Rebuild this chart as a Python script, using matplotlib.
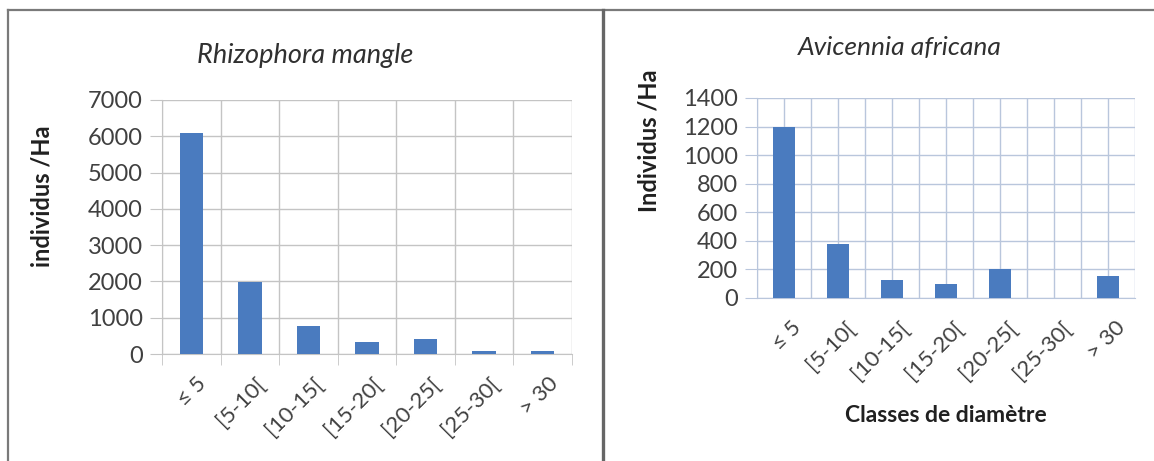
import matplotlib.pyplot as plt
from matplotlib.lines import Line2D
import matplotlib.transforms as mtransforms
import numpy as np

# diameter classes (cm) and stem density per hectare
classes = ['≤ 5', '[5-10[', '[10-15[', '[15-20[', '[20-25[', '[25-30[', '> 30']
rhizophora = [6080, 1980, 780, 320, 420, 70, 70]
avicennia = [1200, 380, 125, 100, 205, 0, 155]

W, H = 1154, 461
plt.rcParams['font.family'] = ['Lato', 'DejaVu Sans']
fig = plt.figure(figsize=(W / 100, H / 100), dpi=100)

bar_col = '#4a7bbf'
txt_col = '#404040'


def px_axes(x0, y0, x1, y1):
    # axes box given in pixels, origin at the top left
    return fig.add_axes([x0 / W, 1 - y1 / H, (x1 - x0) / W, (y1 - y0) / H])


def bar_panel(ax, values, ymax, ystep, grid_col, mid_grid, tick_below, lab_dx, lab_pad):
    x = np.arange(len(classes))
    ax.bar(x, values, width=0.4, color=bar_col, zorder=3)
    ax.set_xlim(-0.5, len(classes) - 0.5)
    ax.set_ylim(0, ymax)
    ax.set_yticks(np.arange(0, ymax + 1, ystep))
    ax.set_xticks(x)
    ax.set_xticks(np.arange(-0.5, len(classes)), minor=True)
    ax.set_xticklabels(classes, rotation=45, ha='right', rotation_mode='anchor',
                       fontsize=16, color=txt_col)
    ax.tick_params(axis='y', labelsize=17, labelcolor=txt_col, length=9,
                   color=grid_col, pad=5)
    ax.tick_params(axis='x', which='major', length=0, pad=lab_pad)
    ax.tick_params(axis='x', which='minor', length=8 if tick_below else 0,
                   color=grid_col)
    # nudge the slanted labels sideways
    shift = mtransforms.ScaledTranslation(lab_dx / 100, 0, fig.dpi_scale_trans)
    for lab in ax.get_xticklabels():
        lab.set_transform(lab.get_transform() + shift)
    ax.grid(axis='y', color=grid_col, lw=1, zorder=0)
    ax.grid(axis='x', which='minor', color=grid_col, lw=1, zorder=0)
    if mid_grid:
        ax.grid(axis='x', which='major', color=grid_col, lw=1, zorder=0)
    for s in ax.spines.values():
        s.set_visible(False)
    for side in ('bottom', 'left'):
        ax.spines[side].set_visible(True)
        ax.spines[side].set_color(grid_col)
    ax.set_axisbelow(True)


# left panel
ax1 = px_axes(162, 100, 572, 354)
bar_panel(ax1, rhizophora, 7000, 1000, '#c4c4c4', False, True, 5, 14)
fig.text(305 / W, 1 - 55 / H, 'Rhizophora mangle', style='italic', fontsize=19.5,
         color='#303030', ha='center', va='center')
fig.text(42 / W, 1 - 196 / H, 'individus /Ha', rotation=90, fontweight='bold',
         fontsize=17, color='#202020', ha='center', va='center')

# right panel
ax2 = px_axes(757, 98, 1135, 298)
bar_panel(ax2, avicennia, 1400, 200, '#b9c6dc', True, False, 7, 14)
fig.text(900 / W, 1 - 48 / H, 'Avicennia africana', style='italic', fontsize=19,
         color='#303030', ha='center', va='center')
fig.text(649 / W, 1 - 141 / H, 'Individus /Ha', rotation=90, fontweight='bold',
         fontsize=17, color='#202020', ha='center', va='center')
fig.text(946 / W, 1 - 415 / H, 'Classes de diamètre', fontweight='bold',
         fontsize=16.5, color='#202020', ha='center', va='center')

# panel frames
frame_col = '#7a7a7a'
fig.add_artist(Line2D([8 / W, 1], [1 - 10 / H, 1 - 10 / H], color=frame_col, lw=1.6))
fig.add_artist(Line2D([8 / W, 8 / W], [0, 1 - 10 / H], color=frame_col, lw=1.6))
fig.add_artist(Line2D([603 / W, 603 / W], [0, 1 - 10 / H], color='#666666', lw=2.4))

fig.savefig('out.png', dpi=100, facecolor='white')
